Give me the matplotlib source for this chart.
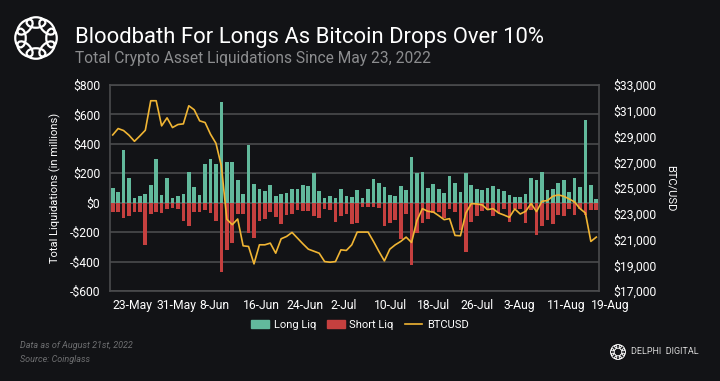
import matplotlib
matplotlib.use("Agg")
import matplotlib.pyplot as plt
from matplotlib.patches import Ellipse, Patch
from matplotlib.lines import Line2D
import numpy as np
import pandas as pd

plt.rcParams['font.family'] = ['Roboto', 'DejaVu Sans']

# daily data, 23-May-2022 .. 20-Aug-2022
dates = pd.date_range("2022-05-23", "2022-08-20", freq="D")

long_liq = [100, 70, 357, 167, 29, 43, 61, 120, 298, 54,
            169, 34, 45, 56, 206, 108, 52, 264, 296, 264,
            687, 275, 274, 151, 59, 389, 129, 93, 77, 118,
            45, 56, 66, 95, 95, 118, 111, 199, 81, 34,
            47, 32, 93, 47, 38, 88, 34, 95, 158, 136,
            106, 52, 47, 111, 88, 312, 201, 210, 102, 127,
            93, 68, 183, 133, 75, 201, 120, 95, 84, 99,
            113, 90, 77, 54, 36, 38, 59, 169, 154, 210,
            84, 93, 133, 156, 75, 169, 106, 563, 118, 27]

short_liq = [-66, -66, -104, -88, -61, -66, -287, -77, -61, -70,
             -43, -36, -41, -127, -156, -61, -61, -47, -72, -124,
             -472, -319, -271, -75, -75, -206, -240, -122, -111, -61,
             -99, -147, -81, -75, -52, -56, -56, -88, -106, -41,
             -47, -133, -93, -79, -147, -138, -32, -27, -32, -38,
             -160, -138, -115, -244, -77, -425, -206, -140, -111, -70,
             -61, -104, -43, -66, -185, -337, -133, -88, -59, -52,
             -93, -70, -43, -131, -43, -41, -140, -47, -221, -158,
             -115, -145, -84, -88, -43, -84, -41, -86, -47, -52]

btc = [29121, 29618, 29462, 29097, 28628, 29045, 29487, 31777, 31777, 29826,
       30450, 29696, 29930, 29982, 31387, 31074, 30216, 30086, 29175, 28472,
       26703, 22580, 22149, 22592, 20510, 20458, 19105, 20588, 20588, 20718,
       19937, 21056, 21238, 21550, 21107, 20666, 20250, 20094, 19937, 19287,
       19235, 19287, 20198, 20150, 20588, 21576, 21576, 21576, 20848, 20068,
       19339, 20250, 20588, 20848, 21186, 20770, 22488, 23398, 23190, 23138,
       22852, 22540, 22618, 21316, 21290, 23060, 23788, 23762, 23684, 23320,
       23398, 23060, 22904, 22722, 23372, 22982, 23190, 23788, 23164, 23970,
       24023, 24361, 24465, 24361, 24153, 23918, 23398, 23060, 20848, 21186]

left_ticks = [-600, -400, -200, 0, 200, 400, 600, 800]
right_ticks = list(range(17000, 33001, 2000))

BG = '#121316'
GRID = '#4a4b4d'
GREEN = '#62b99c'
RED = '#c5403f'
YELLOW = '#f0b534'

fig = plt.figure(figsize=(7.2, 3.81), dpi=100, facecolor=BG)
ax = fig.add_axes([110 / 720, 1 - 291 / 381, 489 / 720, 206 / 381])
ax.set_facecolor(BG)
x = np.arange(len(dates))

ax.bar(x, long_liq, width=0.68, color=GREEN, zorder=3)
ax.bar(x, short_liq, width=0.68, color=RED, zorder=3)
ax.set_ylim(-600, 800)
ax.set_xlim(-0.5, len(dates) - 0.5)
ax.set_yticks(left_ticks)
ax.set_yticklabels([('-$%d' % -v) if v < 0 else '$%d' % v for v in left_ticks])
ax.grid(axis='y', color=GRID, lw=1.2, zorder=0)
for s in ax.spines.values():
    s.set_color(GRID)
    s.set_linewidth(1.2)

tick_idx = list(range(0, len(dates), 8))
ax.set_xticks(tick_idx)
ax.set_xticklabels([f"{dates[i].day}-{dates[i].strftime('%b')}" for i in tick_idx], ha='left')
ax.tick_params(axis='both', length=0, colors='white', labelsize=8.7)
ax.tick_params(axis='x', pad=6)
ax.tick_params(axis='y', pad=7)
ax.set_ylabel('Total Liquidations (in millions)', color='white', fontsize=8, labelpad=6)

ax2 = ax.twinx()
ax2.plot(x, btc, color=YELLOW, lw=1.2, zorder=4)
ax2.set_ylim(17000, 33000)
ax2.set_yticks(right_ticks)
ax2.set_yticklabels(['${:,}'.format(v) for v in right_ticks])
ax2.tick_params(axis='y', length=0, colors='white', labelsize=8.7, pad=10)
for s in ax2.spines.values():
    s.set_visible(False)
ax2.set_ylabel('BTC/USD', color='white', fontsize=8, rotation=-90, labelpad=14)

handles = [Patch(color=GREEN, label='Long Liq'),
           Patch(color=RED, label='Short Liq'),
           Line2D([], [], color=YELLOW, lw=1.2, label='BTCUSD')]
leg = fig.legend(handles=handles, loc='center', bbox_to_anchor=(0.5, 1 - 325 / 381),
                 ncol=3, frameon=False, fontsize=8, handlelength=1.6,
                 handleheight=0.8, columnspacing=1.0, handletextpad=0.4)
for t in leg.get_texts():
    t.set_color('white')

# titles
fig.text(75 / 720, 1 - 37 / 381, 'Bloodbath For Longs As Bitcoin Drops Over 10%',
         color='white', fontsize=15.8, va='center')
fig.text(75 / 720, 1 - 59 / 381, 'Total Crypto Asset Liquidations Since May 23, 2022',
         color='#8c8d8f', fontsize=11.2, va='center')

# footnotes
fig.text(20 / 720, 1 - 345 / 381, 'Data as of August 21st, 2022', color='#6e6f71',
         fontsize=6.5, style='italic', va='center')
fig.text(20 / 720, 1 - 359 / 381, 'Source: Coinglass', color='#6e6f71',
         fontsize=6.5, style='italic', va='center')
fig.text(631 / 720, 1 - 352 / 381, 'DELPHI  DIGITAL', color='#d8d8d8',
         fontsize=6.5, va='center')


def logo(cx, cy, r, lw):
    lax = fig.add_axes([(cx - r) / 720, 1 - (cy + r) / 381, 2 * r / 720, 2 * r / 381])
    lax.set_xlim(-1, 1)
    lax.set_ylim(-1, 1)
    lax.axis('off')
    for k in range(8):
        a = k * np.pi / 4
        lax.add_patch(Ellipse((0.62 * np.cos(a), 0.62 * np.sin(a)), 0.75, 0.42,
                              angle=np.degrees(a) + 90, fill=False, ec='white', lw=lw))


logo(36, 38, 25, 1.6)
logo(618, 352, 9, 0.7)

fig.savefig('out.png', dpi=100, facecolor=BG)
